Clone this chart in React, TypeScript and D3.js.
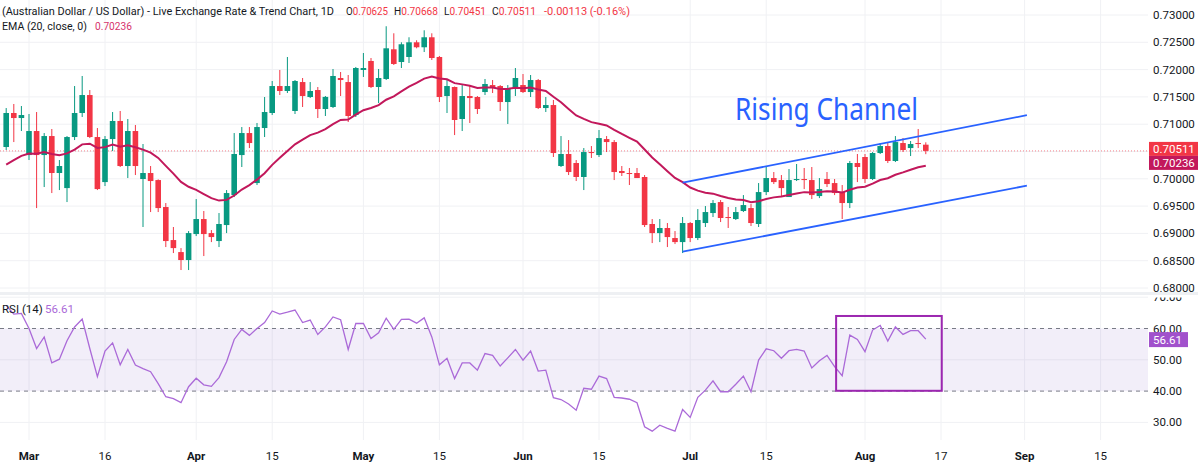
import React from "react";
import * as d3 from "d3";

// ---------- DATA ----------
const firstCandleDate = "2026-02-25";
const opens = [0.70582,0.71205,0.71113,0.70435,0.70875,0.70435,0.70783,0.70106,0.69830,0.70765,0.71205,0.71534,0.70765,0.69940,0.70728,0.71059,0.70234,0.70875,0.69996,0.70106,0.69977,0.69483,0.68878,0.68658,0.68512,0.68988,0.69263,0.69006,0.68860,0.69153,0.69702,0.70435,0.70838,0.69922,0.70930,0.71205,0.71699,0.71608,0.71242,0.71772,0.71498,0.71626,0.71278,0.71315,0.71846,0.71772,0.71168,0.71993,0.72158,0.71681,0.71828,0.72372,0.72139,0.72231,0.72500,0.72409,0.72592,0.72231,0.71516,0.71681,0.71095,0.71516,0.71498,0.71589,0.71717,0.71699,0.71406,0.71662,0.71717,0.71589,0.71809,0.71296,0.71351,0.70234,0.70454,0.70289,0.70033,0.70490,0.70435,0.70728,0.70673,0.70143,0.70106,0.70106,0.70033,0.69172,0.69006,0.69099,0.68915,0.68841,0.69190,0.68915,0.69190,0.69373,0.69574,0.69300,0.69263,0.69410,0.69464,0.69172,0.69757,0.70014,0.69977,0.69666,0.69977,0.69996,0.69977,0.69684,0.69996,0.69922,0.69757,0.69556,0.70289,0.70399,0.69996,0.70472,0.70600,0.70326,0.70655,0.70563,0.70655,0.70625];
const highs = [0.71296,0.71370,0.71333,0.71187,0.71223,0.70838,0.70912,0.70344,0.70783,0.71699,0.71883,0.71626,0.70930,0.70783,0.71223,0.71242,0.71095,0.70985,0.70637,0.70234,0.69990,0.69556,0.69117,0.68731,0.69043,0.69629,0.69410,0.69061,0.69373,0.69794,0.70838,0.70948,0.70948,0.71022,0.71498,0.71791,0.71993,0.72231,0.71809,0.71846,0.71772,0.71681,0.71516,0.72011,0.71956,0.71901,0.72048,0.72304,0.72212,0.72011,0.72794,0.72665,0.72500,0.72592,0.72537,0.72720,0.72665,0.72249,0.71809,0.71690,0.71717,0.71717,0.71516,0.71828,0.71809,0.71717,0.71717,0.72029,0.71919,0.71901,0.71828,0.71498,0.71443,0.70783,0.70710,0.70344,0.70563,0.70600,0.70893,0.70783,0.70710,0.70234,0.70198,0.70198,0.70069,0.69263,0.69263,0.69190,0.69043,0.69300,0.69208,0.69446,0.69501,0.69611,0.69611,0.69483,0.69483,0.69702,0.69538,0.69922,0.70216,0.70124,0.70069,0.70179,0.70271,0.70198,0.70216,0.70014,0.70124,0.69996,0.69886,0.70326,0.70454,0.70454,0.70490,0.70655,0.70673,0.70783,0.70746,0.70692,0.70912,0.70668];
const lows = [0.70527,0.70673,0.70875,0.70344,0.69464,0.69849,0.69739,0.69794,0.69574,0.70710,0.71132,0.70746,0.69794,0.69867,0.70509,0.70216,0.70014,0.70069,0.69117,0.69391,0.69391,0.68750,0.68640,0.68329,0.68329,0.68951,0.68585,0.68841,0.68750,0.69006,0.69666,0.70216,0.70563,0.69886,0.70765,0.71168,0.71534,0.71571,0.71187,0.71315,0.71479,0.71113,0.71150,0.71296,0.71516,0.71040,0.71132,0.71865,0.71662,0.71388,0.71809,0.72084,0.72029,0.72121,0.72390,0.72322,0.72176,0.71406,0.71205,0.70801,0.70875,0.71022,0.71187,0.71534,0.71571,0.71242,0.71004,0.71516,0.71571,0.71498,0.71278,0.71223,0.70399,0.70216,0.70069,0.69959,0.69794,0.70381,0.70399,0.70490,0.69977,0.70051,0.69886,0.70014,0.69117,0.68823,0.68841,0.68750,0.68805,0.68640,0.68841,0.68878,0.69117,0.69300,0.69208,0.69099,0.69245,0.69391,0.69135,0.69117,0.69702,0.69904,0.69666,0.69666,0.69959,0.69812,0.69629,0.69647,0.69849,0.69702,0.69263,0.69464,0.69940,0.69922,0.69977,0.70454,0.70289,0.70307,0.70490,0.70417,0.70563,0.70451];
const closes = [0.71205,0.71113,0.71168,0.70875,0.70435,0.70783,0.70106,0.70234,0.70765,0.71205,0.71534,0.70765,0.69812,0.70728,0.71059,0.70234,0.70875,0.70234,0.70106,0.69959,0.69464,0.68860,0.68731,0.68512,0.69006,0.69263,0.68988,0.68933,0.69172,0.69739,0.70454,0.70838,0.70655,0.70948,0.71223,0.71699,0.71608,0.71699,0.71791,0.71516,0.71608,0.71278,0.71500,0.71883,0.71809,0.71150,0.72029,0.72029,0.71681,0.71846,0.72390,0.72103,0.72464,0.72500,0.72409,0.72592,0.72212,0.71498,0.71699,0.71077,0.71516,0.71479,0.71278,0.71736,0.71662,0.71406,0.71662,0.71846,0.71589,0.71809,0.71296,0.71351,0.70472,0.70454,0.70124,0.70033,0.70490,0.70472,0.70746,0.70673,0.70124,0.70106,0.70088,0.70014,0.69153,0.69006,0.69099,0.68933,0.68841,0.69190,0.68915,0.69245,0.69391,0.69556,0.69282,0.69282,0.69391,0.69519,0.69190,0.69757,0.70014,0.69940,0.69830,0.69977,0.69996,0.69977,0.69702,0.69812,0.69904,0.69739,0.69556,0.70289,0.70216,0.69996,0.70472,0.70600,0.70326,0.70673,0.70527,0.70637,0.70637,0.70511];
const rsiValues = [67.4,64.6,64.8,60.0,53.6,57.3,49.0,50.2,56.1,60.5,63.0,53.6,44.6,52.8,55.4,48.4,53.3,48.3,47.2,46.2,42.4,38.2,37.6,36.3,41.4,44.1,42.0,41.5,44.3,49.4,56.5,59.7,57.8,60.0,61.9,65.6,64.6,65.2,65.9,61.9,62.7,58.1,60.5,63.7,62.8,53.3,61.6,61.6,56.8,58.6,63.3,59.7,62.9,63.0,61.7,63.4,57.3,48.4,50.5,44.0,49.0,49.0,46.7,52.0,51.4,48.0,50.6,53.3,49.9,52.8,46.4,46.7,37.9,37.3,35.9,33.9,40.9,40.6,44.8,44.0,38.0,37.8,37.4,36.3,28.6,27.2,29.1,28.1,27.2,34.1,31.6,38.0,40.3,43.3,39.8,39.8,42.2,44.8,39.8,49.9,53.5,52.9,50.5,52.9,53.3,52.8,47.4,49.7,51.4,47.8,44.9,57.9,56.5,52.6,59.5,61.0,56.0,60.5,58.1,59.3,59.3,56.61];
const emaSeed = 0.7026;
const emaLength = 20;

const tickDates = ["2026-03-02","2026-03-16","2026-04-01","2026-04-15","2026-05-01","2026-05-15","2026-06-01","2026-06-15","2026-07-01","2026-07-15","2026-08-03","2026-08-17","2026-09-01","2026-09-15"];
const tickLabels = ["Mar","16","Apr","15","May","15","Jun","15","Jul","15","Aug","17","Sep","15"];
const priceTicks = [0.68,0.685,0.69,0.695,0.70,0.705,0.71,0.715,0.72,0.725,0.73];
const hiddenPriceTicks = [0.705];
const rsiTicks = [30,40,50,60,70];

// channel anchors: [weekday index from Mar 2, price]
const channelUpper = [[86, 0.69928],[131.3, 0.71165]];
const channelLower = [[86, 0.68665],[131.3, 0.69874]];
// RSI highlight box: [index, rsi]
const rsiBox = [[106.2, 64.0],[120.1, 40.1]];

const headerTitle = "(Australian Dollar / US Dollar) - Live Exchange Rate & Trend Chart, 1D";
const lastOpen = "0.70625", lastHigh = "0.70668", lastLow = "0.70451", lastClose = "0.70511";
const lastChange = "-0.00113 (-0.16%)";
const emaLabel = "EMA (20, close, 0)";
const emaLast = "0.70236";
const rsiLabel = "RSI (14)";
const rsiLast = "56.61";

// ---------- HELPERS ----------
const parse = d3.timeParse("%Y-%m-%d");
const weekdays = d3.timeDay.range(new Date(2026,1,1), new Date(2026,9,31)).filter(d => d.getDay() !== 0 && d.getDay() !== 6);
const baseIdx = weekdays.findIndex(d => +d === +parse("2026-03-02")!);
const idxOf = (s: string) => weekdays.findIndex(d => +d === +parse(s)!) - baseIdx;
const firstIdx = idxOf(firstCandleDate);

const UP = "#089981", DOWN = "#f23645";
const TXT = "#131722";
const FONT = "Roboto, 'Noto Sans', sans-serif";
const W = 1198, H = 466;
const PLOT_R = 1148;

export default function App() {
  const x = d3.scaleLinear().domain([0, 141]).range([29, 29 + 7.6 * 141]);
  const y = d3.scaleLinear().domain([0.68, 0.73]).range([288, 15]);
  const yr = d3.scaleLinear().domain([30, 70]).range([422.4, 297.2]);

  const candles = opens.map((o, k) => ({ i: firstIdx + k, o, h: highs[k], l: lows[k], c: closes[k] }));
  let e = emaSeed;
  const ema = closes.map((c, k) => { if (k > 0) e = e + (2 / (emaLength + 1)) * (c - e); return { i: firstIdx + k, v: e }; });
  const rsi = rsiValues.map((v, k) => ({ i: firstIdx + k, v }));

  const emaLine = d3.line<{i:number,v:number}>().x(d => x(d.i)).y(d => y(d.v));
  const rsiLine = d3.line<{i:number,v:number}>().x(d => x(d.i)).y(d => yr(d.v));
  const bw = 5.6;
  const lastY = y(closes[closes.length - 1]);
  const tickXs = tickDates.map(idxOf).map(i => x(i));
  const isMonth = (s: string) => /[A-Za-z]/.test(s);

  return (
    <div style={{ position: "fixed", left: 0, top: 0, width: W, height: H, background: "#fff" }}>
      <svg width={W} height={H} style={{ display: "block", fontFamily: FONT }}>
        <defs>
          <clipPath id="mainClip"><rect x={0} y={0} width={PLOT_R} height={292} /></clipPath>
          <clipPath id="rsiClip"><rect x={0} y={297} width={PLOT_R} height={142} /></clipPath>
          <clipPath id="rsiAxisClip"><rect x={PLOT_R} y={297.5} width={60} height={143} /></clipPath>
        </defs>
        <rect x={0} y={0} width={W} height={H} fill="#fff" />
        {/* grids */}
        {tickXs.map((tx, k) => (
          <line key={"vg" + k} x1={tx} x2={tx} y1={0} y2={440} stroke="#f0f1f4" strokeWidth={1} />
        ))}
        {priceTicks.map((p, k) => (
          <line key={"hg" + k} x1={0} x2={PLOT_R} y1={y(p)} y2={y(p)} stroke="#f0f1f4" strokeWidth={1} />
        ))}
        {[30, 50, 70].map((v, k) => (
          <line key={"rg" + k} x1={0} x2={PLOT_R} y1={yr(v)} y2={yr(v)} stroke="#f0f1f4" strokeWidth={1} />
        ))}
        {/* pane separator */}
        <rect x={0} y={292} width={W} height={3} fill="#eef0f3" />

        {/* main pane */}
        <g clipPath="url(#mainClip)">
          <line x1={0} x2={PLOT_R} y1={lastY} y2={lastY} stroke={DOWN} strokeOpacity={0.6} strokeDasharray="1,2" />
          {candles.map((d, k) => {
            const col = d.c >= d.o ? UP : DOWN;
            const cx = x(d.i);
            const top = y(Math.max(d.o, d.c));
            const bot = y(Math.min(d.o, d.c));
            return (
              <g key={"c" + k}>
                <line x1={cx} x2={cx} y1={y(d.h)} y2={y(d.l)} stroke={col} strokeWidth={1} />
                <rect x={cx - bw / 2} y={top} width={bw} height={Math.max(1, bot - top)} fill={col} />
              </g>
            );
          })}
          <path d={emaLine(ema) || ""} fill="none" stroke="#c2185b" strokeWidth={2} />
          <line x1={x(channelUpper[0][0])} y1={y(channelUpper[0][1])} x2={x(channelUpper[1][0])} y2={y(channelUpper[1][1])} stroke="#2962ff" strokeWidth={1.8} />
          <line x1={x(channelLower[0][0])} y1={y(channelLower[0][1])} x2={x(channelLower[1][0])} y2={y(channelLower[1][1])} stroke="#2962ff" strokeWidth={1.8} />
          <text x={735} y={120} fontSize={30} fill="#2962ff" fontFamily="'Noto Sans', sans-serif" textLength={183} lengthAdjust="spacingAndGlyphs">Rising Channel</text>
        </g>

        {/* header */}
        <g fontSize={11.5} fill={TXT}>
          <text x={2} y={15} textLength={332} lengthAdjust="spacingAndGlyphs">{headerTitle}</text>
          <text x={346} y={15} textLength={42} lengthAdjust="spacingAndGlyphs">O<tspan fill={DOWN}>{lastOpen}</tspan></text>
          <text x={394} y={15} textLength={44} lengthAdjust="spacingAndGlyphs">H<tspan fill={DOWN}>{lastHigh}</tspan></text>
          <text x={444} y={15} textLength={42} lengthAdjust="spacingAndGlyphs">L<tspan fill={DOWN}>{lastLow}</tspan></text>
          <text x={492} y={15} textLength={44} lengthAdjust="spacingAndGlyphs">C<tspan fill={DOWN}>{lastClose}</tspan></text>
          <text x={544} y={15} fill={DOWN} textLength={86} lengthAdjust="spacingAndGlyphs">{lastChange}</text>
          <text x={2} y={29.5} textLength={85} lengthAdjust="spacingAndGlyphs">{emaLabel}</text>
          <text x={95} y={29.5} fill="#d6336c" textLength={37} lengthAdjust="spacingAndGlyphs">{emaLast}</text>
        </g>

        {/* RSI pane */}
        <g clipPath="url(#rsiClip)">
          <rect x={0} y={yr(60)} width={PLOT_R} height={yr(40) - yr(60)} fill="#7e57c2" fillOpacity={0.1} />
          <line x1={0} x2={PLOT_R} y1={yr(60)} y2={yr(60)} stroke="#787b86" strokeDasharray="4,4" />
          <line x1={0} x2={PLOT_R} y1={yr(40)} y2={yr(40)} stroke="#787b86" strokeDasharray="4,4" />
          <path d={rsiLine(rsi) || ""} fill="none" stroke="#ab6ad8" strokeWidth={1.3} />
          <rect x={x(rsiBox[0][0])} y={yr(rsiBox[0][1])} width={x(rsiBox[1][0]) - x(rsiBox[0][0])} height={yr(rsiBox[1][1]) - yr(rsiBox[0][1])} fill="none" stroke="#9c27b0" strokeWidth={2} />
        </g>
        <g fontSize={11.5}>
          <text x={2} y={313} fill={TXT}>{rsiLabel}</text>
          <text x={45} y={313} fill="#ab6ad8">{rsiLast}</text>
        </g>

        {/* price axis */}
        <g fontSize={11.5} fill={TXT}>
          {priceTicks.filter(p => !hiddenPriceTicks.includes(p)).map((p, k) => (
            <text key={"pt" + k} x={1153} y={y(p)} dy="0.35em">{d3.format(".5f")(p)}</text>
          ))}
        </g>
        <g fontSize={11.5} fill={TXT} clipPath="url(#rsiAxisClip)">
          {rsiTicks.map((v, k) => (
            <text key={"rt" + k} x={1153} y={yr(v)} dy="0.35em">{d3.format(".2f")(v)}</text>
          ))}
        </g>
        {/* last value labels */}
        <rect x={1149} y={lastY - 9} width={49} height={14} fill={DOWN} />
        <text x={1153} y={lastY - 2} dy="0.35em" fontSize={11.5} fill="#fff">{lastClose}</text>
        <rect x={1149} y={lastY + 5} width={49} height={14} fill="#c2185b" />
        <text x={1153} y={lastY + 12} dy="0.35em" fontSize={11.5} fill="#fff">{emaLast}</text>
        <rect x={1149} y={yr(56.61) - 7} width={39} height={15} fill="#a151cc" />
        <text x={1153} y={yr(56.61) + 0.5} dy="0.35em" fontSize={11.5} fill="#fff">{rsiLast}</text>

        {/* date axis */}
        <g fontSize={11.5} fill={TXT} textAnchor="middle">
          {tickXs.map((tx, k) => (
            <text key={"dt" + k} x={tx} y={460} fontWeight={isMonth(tickLabels[k]) ? 700 : 400}>{tickLabels[k]}</text>
          ))}
        </g>
      </svg>
    </div>
  );
}
